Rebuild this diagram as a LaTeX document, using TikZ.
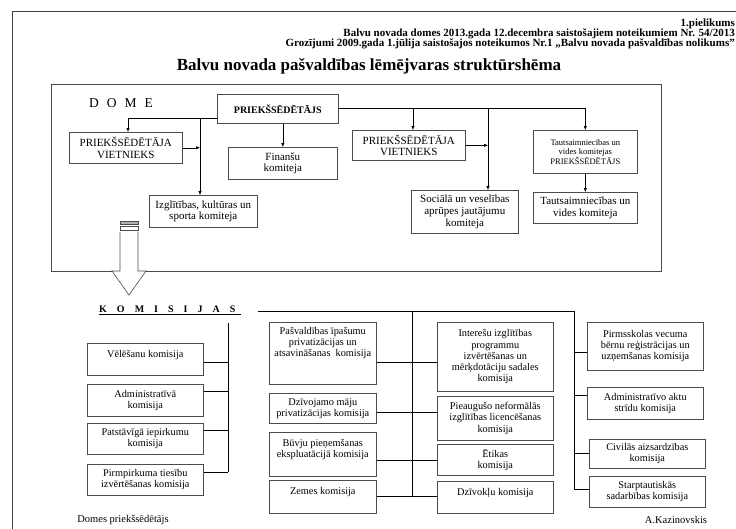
\documentclass[tikz,border=0pt]{standalone}
\usepackage{fontspec}
\setmainfont{Liberation Serif}
\usetikzlibrary{arrows.meta}

\newcommand{\fsz}[2]{\fontsize{#1}{#2}\selectfont}

\tikzset{
  box/.style={draw=black!70, line width=0.6pt, align=center, inner sep=1pt, anchor=north west},
  dbox/.style={box, font=\fsz{11}{11.7}},
  kbox/.style={box, font=\fsz{10.3}{11.2}},
  link/.style={line width=0.6pt},
  head/.style={anchor=east, font=\fsz{11}{12}\bfseries, inner sep=0pt},
  >={Latex[length=4pt,width=3.5pt]}
}

\begin{document}
\begin{tikzpicture}[x=1pt,y=-1pt]
\useasboundingbox (0,0) rectangle (736,528);

% Page frame
\draw[black!75, line width=0.8pt] (12,11) rectangle (800,600);

% Header
\node[head] (att) at (735,24) {1.pielikums};
\node[head] (ref1) at (735,33.5) {Balvu novada domes 2013.gada 12.decembra saistošajiem noteikumiem Nr. 54/2013};
\node[head] (ref2) at (735,43.5) {Grozījumi 2009.gada 1.jūlija saistošajos noteikumos Nr.1 „Balvu novada pašvaldības nolikums”};
\node[font=\fsz{17}{18}\bfseries] (title) at (369,66) {Balvu novada pašvaldības lēmējvaras struktūrshēma};

% DOME frame
\draw[black!70, line width=0.6pt] (51,84) rectangle (661,271);
\node[font=\fsz{13.5}{14}, anchor=west, inner sep=0pt] (dome) at (89,103) {D\hspace{8pt}O\hspace{8pt}M\hspace{8pt}E};

% DOME boxes
\node[box, font=\fsz{10}{12}\bfseries, minimum width=121pt, minimum height=29pt] (chair) at (217,94) {PRIEKŠSĒDĒTĀJS};
\node[dbox, minimum width=113pt, minimum height=31pt] (vice1) at (69,132) {PRIEKŠSĒDĒTĀJA\\VIETNIEKS};
\node[dbox, minimum width=109pt, minimum height=32pt] (fin) at (228,147) {Finanšu\\komiteja};
\node[dbox, minimum width=108pt, minimum height=32pt] (izgl) at (149,195) {Izglītības, kultūras un\\sporta komiteja};
\node[dbox, minimum width=113pt, minimum height=30pt] (vice2) at (352,130) {PRIEKŠSĒDĒTĀJA\\VIETNIEKS};
\node[dbox, minimum width=107pt, minimum height=43pt] (soc) at (411,190) {Sociālā un veselības\\aprūpes jautājumu\\komiteja};
\node[box, font=\fsz{8.5}{9}, minimum width=104pt, minimum height=43pt] (tchair) at (533,130) {Tautsaimniecības un\\vides komitejas\\PRIEKŠSĒDĒTĀJS};
\node[dbox, minimum width=104pt, minimum height=31pt] (tkom) at (533,192) {Tautsaimniecības un\\vides komiteja};

% Junctions on the chairman lines
\coordinate (jL) at (128,118);
\coordinate (jI) at (200,118);
\coordinate (jV) at (413,108);
\coordinate (jS) at (488,108);

% Chairman connectors
\draw[link,->] (chair.west |- jL) -- (jL) -- (jL |- vice1.north);
\draw[link,->] (jI) -- (jI |- izgl.north);
\draw[link,->] (vice1.east) -- (vice1.east -| jI);
\draw[link,->] (fin.north |- chair.south) -- (fin.north);
\draw[link,->] (chair.east |- jV) -| (tchair.north);
\draw[link,->] (jV) -- (jV |- vice2.north);
\draw[link,->] (jS) -- (jS |- soc.north);
\draw[link,->] (vice2.east) -- (vice2.east -| jS);
\draw[link,->] (tchair.south) -- (tkom.north);

% Striped block arrow down to the commissions
\draw[black!70, fill=black!30] (120,221.5) rectangle (138,224.5);
\draw[black!70] (120,226) rectangle (138,230);
\draw[black!70, line width=0.6pt, fill=white] (120,231.5) -- (120,271) -- (112,271) -- (129,295) -- (146,271) -- (138,271) -- (138,231.5);

% KOMISIJAS heading
\node[font=\fsz{10}{12}\bfseries, anchor=base west, inner sep=0pt] (kom) at (99,312) {K\hspace{10pt}O\hspace{10pt}M\hspace{10pt}I\hspace{10pt}S\hspace{10pt}I\hspace{10pt}J\hspace{10pt}A\hspace{10pt}S};
\draw[line width=1.6pt] ([yshift=-2.5pt]kom.base west) -- ([xshift=5pt,yshift=-2.5pt]kom.base east);

% Left column
\node[kbox, minimum width=116pt, minimum height=32pt] (vel) at (87,343) {Vēlēšanu komisija\\ \mbox{}};
\node[kbox, minimum width=116pt, minimum height=32pt] (adm) at (87,384) {Administratīvā\\komisija};
\node[kbox, minimum width=116pt, minimum height=31pt] (pats) at (87,423) {Patstāvīgā iepirkumu\\komisija};
\node[kbox, minimum width=116pt, minimum height=31pt] (pirm) at (87,464) {Pirmpirkuma tiesību\\izvērtēšanas komisija};

\coordinate (lt) at (228,323);
\coordinate (l1) at (228,362);
\coordinate (l2) at (228,391);
\coordinate (l3) at (228,430);
\coordinate (l4) at (228,472);
\draw[link] (lt) -- (l4);
\draw[link] (vel.east |- l1) -- (l1);
\draw[link] (adm.east |- l2) -- (l2);
\draw[link] (pats.east |- l3) -- (l3);
\draw[link] (pirm.east |- l4) -- (l4);

% Middle columns
\node[kbox, minimum width=107pt, minimum height=62pt] (pasv) at (269,322) {Pašvaldības īpašumu\\privatizācijas un\\atsavināšanas\ \ komisija\\ \mbox{}\\ \mbox{}};
\node[kbox, minimum width=107pt, minimum height=30pt] (dziv) at (269,393) {Dzīvojamo māju\\privatizācijas komisija};
\node[kbox, minimum width=107pt, minimum height=44pt] (buv) at (269,432) {Būvju pieņemšanas\\ekspluatācijā komisija\\ \mbox{}};
\node[kbox, minimum width=107pt, minimum height=33pt] (zem) at (269,480) {Zemes komisija\\ \mbox{}};
\node[kbox, minimum width=116pt, minimum height=69pt] (inter) at (437,322) {Interešu izglītības\\programmu\\izvērtēšanas un\\mērķdotāciju sadales\\komisija};
\node[kbox, minimum width=116pt, minimum height=44pt] (pieaug) at (437,396) {Pieaugušo neformālās\\izglītības licencēšanas\\komisija};
\node[kbox, minimum width=116pt, minimum height=31pt] (etik) at (437,444) {Ētikas\\komisija};
\node[kbox, minimum width=116pt, minimum height=32pt] (dzk) at (437,481) {Dzīvokļu komisija\\ \mbox{}};

\coordinate (kl) at (258,311);
\coordinate (kr) at (574,311);
\coordinate (mt) at (412,311);
\coordinate (m1) at (412,362);
\coordinate (m2) at (412,412);
\coordinate (m3) at (412,460);
\coordinate (m4) at (412,496);
\draw[link] (kl) -- (kr);
\draw[link] (mt) -- (m4);
\draw[link] (pasv.east |- m1) -- (m1 -| inter.west);
\draw[link] (dziv.east |- m2) -- (m2 -| pieaug.west);
\draw[link] (buv.east |- m3) -- (m3 -| etik.west);
\draw[link] (zem.east |- m4) -- (m4 -| dzk.west);

% Right column
\node[kbox, minimum width=116pt, minimum height=48pt] (pirms) at (587,322) {Pirmsskolas vecuma\\bērnu reģistrācijas un\\uzņemšanas komisija};
\node[kbox, minimum width=116pt, minimum height=32pt] (aktu) at (587,387) {Administratīvo aktu\\strīdu komisija};
\node[kbox, minimum width=116pt, minimum height=29pt] (civ) at (589,439) {Civilās aizsardzības\\komisija};
\node[kbox, minimum width=116pt, minimum height=31pt] (starp) at (589,476) {Starptautiskās\\sadarbības komisija};

\coordinate (r1) at (574,352);
\coordinate (r2) at (574,395);
\coordinate (r3) at (574,453);
\coordinate (r4) at (574,489);
\draw[link] (kr) -- (r4);
\draw[link] (r1) -- (r1 -| pirms.west);
\draw[link] (r2) -- (r2 -| aktu.west);
\draw[link] (r3) -- (r3 -| civ.west);
\draw[link] (r4) -- (r4 -| starp.west);

% Signatures
\node[font=\fsz{10.5}{12}] (sign) at (123,520) {Domes priekšsēdētājs};
\node[font=\fsz{10.5}{12}] (name) at (676,520) {A.Kazinovskis};
\end{tikzpicture}
\end{document}
